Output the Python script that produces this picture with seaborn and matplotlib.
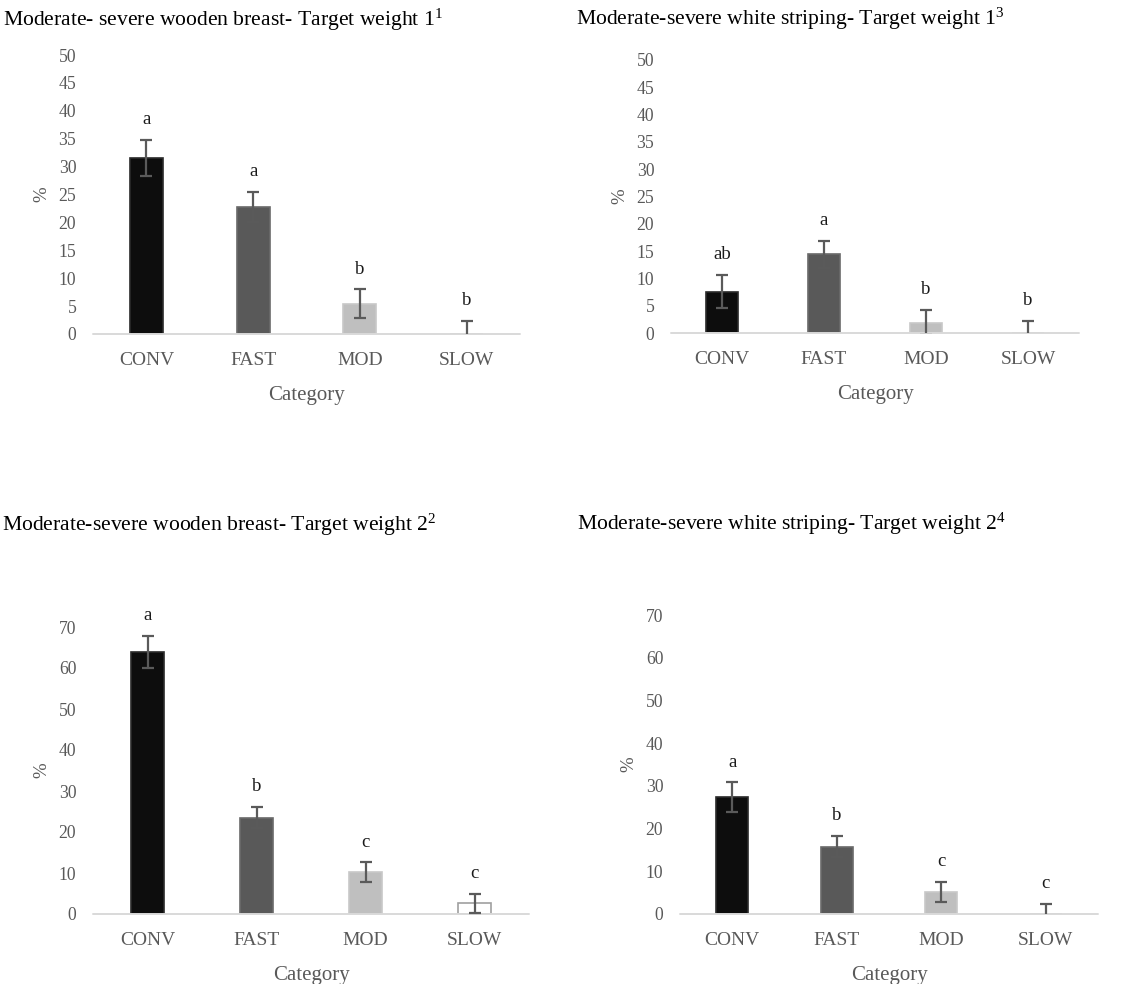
import matplotlib
matplotlib.use("Agg")
import matplotlib.pyplot as plt
import seaborn as sns

# ---------------- data ----------------
categories = ["CONV", "FAST", "MOD", "SLOW"]

wb1_values = [31.6, 22.7, 5.4, 0.0]
wb1_errors = [3.2, 2.7, 2.6, 2.3]
wb1_letters = ["a", "a", "b", "b"]

ws1_values = [7.6, 14.4, 1.9, 0.0]
ws1_errors = [3.0, 2.5, 2.3, 2.2]
ws1_letters = ["ab", "a", "b", "b"]

wb2_values = [63.9, 23.5, 10.2, 2.6]
wb2_errors = [3.9, 2.6, 2.4, 2.3]
wb2_letters = ["a", "b", "c", "c"]

ws2_values = [27.3, 15.8, 5.2, 0.0]
ws2_errors = [3.5, 2.5, 2.4, 2.3]
ws2_letters = ["a", "b", "c", "c"]

titles = [
    "Moderate- severe wooden breast- Target weight 1$^{\\mathrm{1}}$",
    "Moderate-severe white striping- Target weight 1$^{\\mathrm{3}}$",
    "Moderate-severe wooden breast- Target weight 2$^{\\mathrm{2}}$",
    "Moderate-severe white striping- Target weight 2$^{\\mathrm{4}}$",
]
y_ticks_top = [0, 5, 10, 15, 20, 25, 30, 35, 40, 45, 50]
y_ticks_bottom = [0, 10, 20, 30, 40, 50, 60, 70]

# ---------------- style ----------------
sns.set_theme(style="white")
plt.rcParams["font.family"] = ["Liberation Serif", "DejaVu Serif"]
plt.rcParams["mathtext.fontset"] = "custom"
plt.rcParams["mathtext.rm"] = "Liberation Serif"
plt.rcParams["mathtext.it"] = "Liberation Serif:italic"
plt.rcParams["mathtext.bf"] = "Liberation Serif:bold"

fill_colors = ["#0d0d0d", "#595959", "#bfbfbf", "#ffffff"]
edge_colors = ["#2a2a2a", "#6a6a6a", "#c8c8c8", "#a0a0a0"]
GRAY = "#595959"

W, H = 1145, 984
fig = plt.figure(figsize=(W / 100, H / 100), dpi=100)


def px_axes(left, right, bottom, top):
    return [left / W, 1 - bottom / H, (right - left) / W, (bottom - top) / H]


panels = [
    (wb1_values, wb1_errors, wb1_letters, px_axes(93, 520, 334, 55), 50, y_ticks_top),
    (ws1_values, ws1_errors, ws1_letters, px_axes(671, 1079, 333, 60), 50, y_ticks_top),
    (wb2_values, wb2_errors, wb2_letters, px_axes(93, 529, 914, 627), 70, y_ticks_bottom),
    (ws2_values, ws2_errors, ws2_letters, px_axes(680, 1098, 914, 615), 70, y_ticks_bottom),
]
title_pos = [(3, 26), (576, 25), (2, 531), (577, 530)]

for (vals, errs, letters, rect, ymax, yticks), title, (tx, ty) in zip(panels, titles, title_pos):
    ax = fig.add_axes(rect)
    sns.barplot(x=categories, y=vals, hue=categories, palette=fill_colors,
                legend=False, ax=ax, width=0.31, linewidth=1.2, saturation=1)
    for patch, ec in zip(ax.patches, edge_colors):
        patch.set_edgecolor(ec)
    ax.errorbar(x=list(range(len(categories))), y=vals, yerr=errs, fmt="none",
                ecolor="#5a5a5a", elinewidth=1.6, capsize=4.5, capthick=1.6, zorder=4)
    for i, (v, e, lab) in enumerate(zip(vals, errs, letters)):
        ax.annotate(lab, xy=(i, v + e), xytext=(0, 8.5), textcoords="offset points",
                    ha="center", va="bottom", fontsize=13.5, color="#1a1a1a")
    ax.set_ylim(0, ymax)
    ax.set_xlim(-0.5, 3.5)
    ax.set_yticks(yticks)
    ax.axhline(0, color="#d9d9d9", lw=1.4, zorder=3, clip_on=False)
    for s in ax.spines.values():
        s.set_visible(False)
    ax.tick_params(axis="y", length=0, pad=12, labelsize=12.7, labelcolor=GRAY)
    ax.tick_params(axis="x", length=0, pad=13, labelsize=14, labelcolor=GRAY)
    ax.set_xlabel("Category", fontsize=15, color=GRAY, labelpad=12)
    ax.set_ylabel("%", fontsize=13.5, color=GRAY, labelpad=6)
    ax.grid(False)
    ax.set_facecolor("none")
    fig.text(tx / W, 1 - ty / H, title, ha="left", va="baseline",
             fontsize=15.6, color="#000000")

fig.savefig("out.png", dpi=100, facecolor="white")
